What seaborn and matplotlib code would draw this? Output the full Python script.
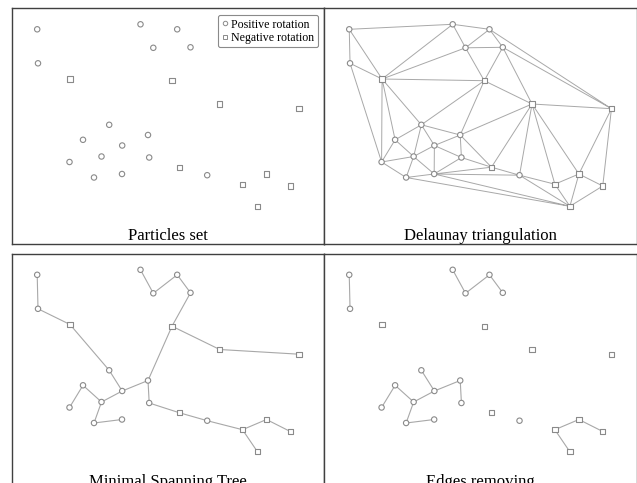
import numpy as np
import pandas as pd
import seaborn as sns
import matplotlib.pyplot as plt
import matplotlib.tri as mtri
from matplotlib.collections import LineCollection
from matplotlib.lines import Line2D

# particle positions (panel units)
px = [25.2, 128.5, 165.2, 141.3, 178.5, 26.0, 97.2, 71.0, 136.0, 110.2, 89.5, 137.2, 57.5, 82.0, 110.0, 195.2,
      58.0, 160.0, 207.7, 287.0, 167.2, 254.5, 230.5, 278.3, 245.5]
py = [214.7, 219.7, 214.7, 196.2, 196.7, 180.7, 119.2, 104.2, 109.0, 98.5, 87.5, 86.5, 82.0, 66.5, 70.0, 68.8,
      165.0, 163.3, 140.0, 135.3, 76.8, 70.0, 59.8, 58.0, 37.7]
rotation = ["Positive rotation"] * 16 + ["Negative rotation"] * 9

# triangles of the Delaunay panel (point indices, as drawn)
triangles = [(0, 1, 16), (0, 16, 5), (5, 16, 12), (16, 12, 7), (16, 7, 6), (7, 12, 10), (6, 7, 10), (6, 10, 9),
             (12, 10, 13), (10, 13, 14), (10, 14, 9), (13, 14, 24), (9, 11, 14), (11, 20, 14), (14, 20, 15),
             (14, 15, 24), (15, 22, 24), (22, 21, 24), (21, 23, 24), (19, 21, 23), (18, 19, 21), (18, 21, 22),
             (18, 22, 15), (18, 15, 20), (18, 20, 8), (8, 20, 11), (8, 11, 9), (8, 9, 6), (6, 8, 17), (17, 8, 18),
             (17, 18, 4), (18, 4, 19), (4, 19, 2), (2, 3, 4), (3, 4, 17), (3, 17, 16), (16, 17, 6), (16, 3, 1),
             (1, 3, 2)]

# minimal spanning tree edges (point indices)
mst_edges = [(0, 5), (5, 16), (16, 6), (6, 9), (9, 8), (9, 10), (10, 7), (7, 12), (10, 13), (13, 14),
             (8, 17), (17, 4), (4, 2), (2, 3), (3, 1), (17, 18), (18, 19), (8, 11), (11, 20), (20, 15),
             (15, 22), (22, 21), (21, 23), (22, 24)]
removed_edges = [(5, 16), (16, 6), (8, 17), (17, 4), (17, 18), (18, 19), (11, 20), (20, 15), (15, 22)]
kept_edges = [e for e in mst_edges if e not in removed_edges]

titles = ["Particles set", "Delaunay triangulation", "Minimal Spanning Tree", "Edges removing"]

df = pd.DataFrame({"x": px, "y": py, "rotation": rotation})

plt.rcParams["font.family"] = ["Liberation Serif", "DejaVu Serif"]

W, H = 637, 483
fig = plt.figure(figsize=(6.37, 4.83), dpi=100)
boxes = [(12, 8), (324, 8), (12, 253.5), (324, 253.5)]  # left, top in pixels
pw, ph = 312, 236

edge_col = "#8a8a8a"
line_col = "#a8a8a8"
markers = {"Positive rotation": "o", "Negative rotation": "s"}


def edge_lines(ax, edges):
    segs = [[(px[a], py[a]), (px[b], py[b])] for a, b in edges]
    ax.add_collection(LineCollection(segs, colors=line_col, linewidths=0.8, zorder=1))


for i, (l, t) in enumerate(boxes):
    w = pw + (0.5 if l > 300 else 0)
    ax = fig.add_axes([l / W, (H - t - ph) / H, w / W, ph / H])
    if i == 1:
        tri = mtri.Triangulation(px, py, triangles)
        ax.triplot(tri, color=line_col, lw=0.7, zorder=1, marker="")
    elif i == 2:
        edge_lines(ax, mst_edges)
    elif i == 3:
        edge_lines(ax, kept_edges)
    sns.scatterplot(data=df, x="x", y="y", style="rotation", markers=markers, ax=ax,
                    s=15, facecolor="white", edgecolor=edge_col, linewidth=0.8,
                    legend=False, zorder=3)
    ax.set_xlim(0, pw)
    ax.set_ylim(0, ph)
    ax.set_xticks([])
    ax.set_yticks([])
    ax.set_xlabel("")
    ax.set_ylabel("")
    for sp in ax.spines.values():
        sp.set_color("#404040")
        sp.set_linewidth(1.0)
    ax.text(0.5, 4 / ph, titles[i], transform=ax.transAxes, ha="center", va="baseline", fontsize=12)
    if i == 0:
        handles = [Line2D([], [], ls="", marker="o", ms=3.2, mfc="white", mec=edge_col, mew=0.7),
                   Line2D([], [], ls="", marker="s", ms=3.2, mfc="white", mec=edge_col, mew=0.7)]
        leg = ax.legend(handles, ["Positive rotation", "Negative rotation"], loc="upper right",
                        bbox_to_anchor=(1 - 6 / pw, 1 - 7 / ph), borderaxespad=0, fontsize=8.6,
                        handlelength=0.6, handletextpad=0.25, borderpad=0.3, labelspacing=0.1,
                        fancybox=True, framealpha=1, edgecolor="#8a8a8a")
        leg.get_frame().set_linewidth(0.8)

fig.savefig("out.png", dpi=100)
